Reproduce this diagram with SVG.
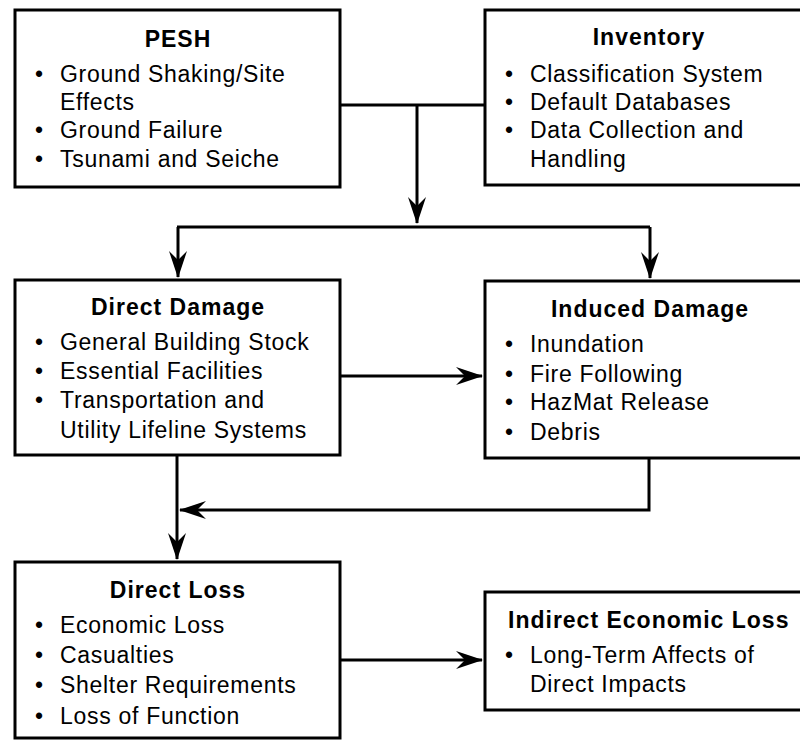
<svg xmlns="http://www.w3.org/2000/svg" width="800" height="740" viewBox="0 0 800 740">
<style>
.box{fill:#fff;stroke:#000;stroke-width:3}
.t{font-family:"Liberation Sans",Arial,sans-serif;font-size:23px;font-weight:bold;letter-spacing:1px;fill:#000}
.b{font-family:"Liberation Sans",Arial,sans-serif;font-size:23px;letter-spacing:0.7px;fill:#000}
.c{fill:none;stroke:#000;stroke-width:3}
</style>
<defs>
<marker id="ah" markerUnits="userSpaceOnUse" markerWidth="30" markerHeight="22" viewBox="-28 -11 30 22" refX="0" refY="0" orient="auto">
<path d="M1,0 L-26,-9 L-17,0 L-26,9 Z" fill="#000"/>
</marker>
</defs>
<rect width="800" height="740" fill="#fff"/>
<g id="connectors">
<path class="c" d="M340,105 H486"/>
<path class="c" d="M417,105 V223" marker-end="url(#ah)"/>
<path class="c" d="M177,227 H650"/>
<path class="c" d="M178,227 V277" marker-end="url(#ah)"/>
<path class="c" d="M650,227 V278" marker-end="url(#ah)"/>
<path class="c" d="M340,376 H482" marker-end="url(#ah)"/>
<path class="c" d="M649,458 V510 H180" marker-end="url(#ah)"/>
<path class="c" d="M177,455 V559" marker-end="url(#ah)"/>
<path class="c" d="M340,660 H482" marker-end="url(#ah)"/>
</g>
<g id="pesh">
<rect class="box" x="15" y="10" width="325" height="177"/>
<text class="t" x="178" y="47" text-anchor="middle">PESH</text>
<text class="b" x="35" y="82">•</text><text class="b" x="60" y="82">Ground Shaking/Site</text>
<text class="b" x="60" y="110">Effects</text>
<text class="b" x="35" y="138">•</text><text class="b" x="60" y="138">Ground Failure</text>
<text class="b" x="35" y="167">•</text><text class="b" x="60" y="167">Tsunami and Seiche</text>
</g>
<g id="inventory">
<rect class="box" x="485" y="10" width="330" height="175"/>
<text class="t" x="649" y="45" text-anchor="middle">Inventory</text>
<text class="b" x="505" y="82">•</text><text class="b" x="530" y="82">Classification System</text>
<text class="b" x="505" y="110">•</text><text class="b" x="530" y="110">Default Databases</text>
<text class="b" x="505" y="138">•</text><text class="b" x="530" y="138">Data Collection and</text>
<text class="b" x="530" y="167">Handling</text>
</g>
<g id="direct-damage">
<rect class="box" x="15" y="280" width="325" height="175"/>
<text class="t" x="178" y="315" text-anchor="middle">Direct Damage</text>
<text class="b" x="35" y="350">•</text><text class="b" x="60" y="350">General Building Stock</text>
<text class="b" x="35" y="379">•</text><text class="b" x="60" y="379">Essential Facilities</text>
<text class="b" x="35" y="408">•</text><text class="b" x="60" y="408">Transportation and</text>
<text class="b" x="60" y="438">Utility Lifeline Systems</text>
</g>
<g id="induced-damage">
<rect class="box" x="485" y="281" width="330" height="177"/>
<text class="t" x="650" y="317" text-anchor="middle">Induced Damage</text>
<text class="b" x="505" y="352">•</text><text class="b" x="530" y="352">Inundation</text>
<text class="b" x="505" y="382">•</text><text class="b" x="530" y="382">Fire Following</text>
<text class="b" x="505" y="410">•</text><text class="b" x="530" y="410">HazMat Release</text>
<text class="b" x="505" y="440">•</text><text class="b" x="530" y="440">Debris</text>
</g>
<g id="direct-loss">
<rect class="box" x="15" y="562" width="325" height="176"/>
<text class="t" x="178" y="598" text-anchor="middle">Direct Loss</text>
<text class="b" x="35" y="633">•</text><text class="b" x="60" y="633">Economic Loss</text>
<text class="b" x="35" y="663">•</text><text class="b" x="60" y="663">Casualties</text>
<text class="b" x="35" y="693">•</text><text class="b" x="60" y="693">Shelter Requirements</text>
<text class="b" x="35" y="724">•</text><text class="b" x="60" y="724">Loss of Function</text>
</g>
<g id="indirect-economic-loss">
<rect class="box" x="485" y="592" width="330" height="118"/>
<text class="t" x="508" y="628">Indirect Economic Loss</text>
<text class="b" x="505" y="663">•</text><text class="b" x="530" y="663">Long-Term Affects of</text>
<text class="b" x="530" y="692">Direct Impacts</text>
</g>
</svg>
